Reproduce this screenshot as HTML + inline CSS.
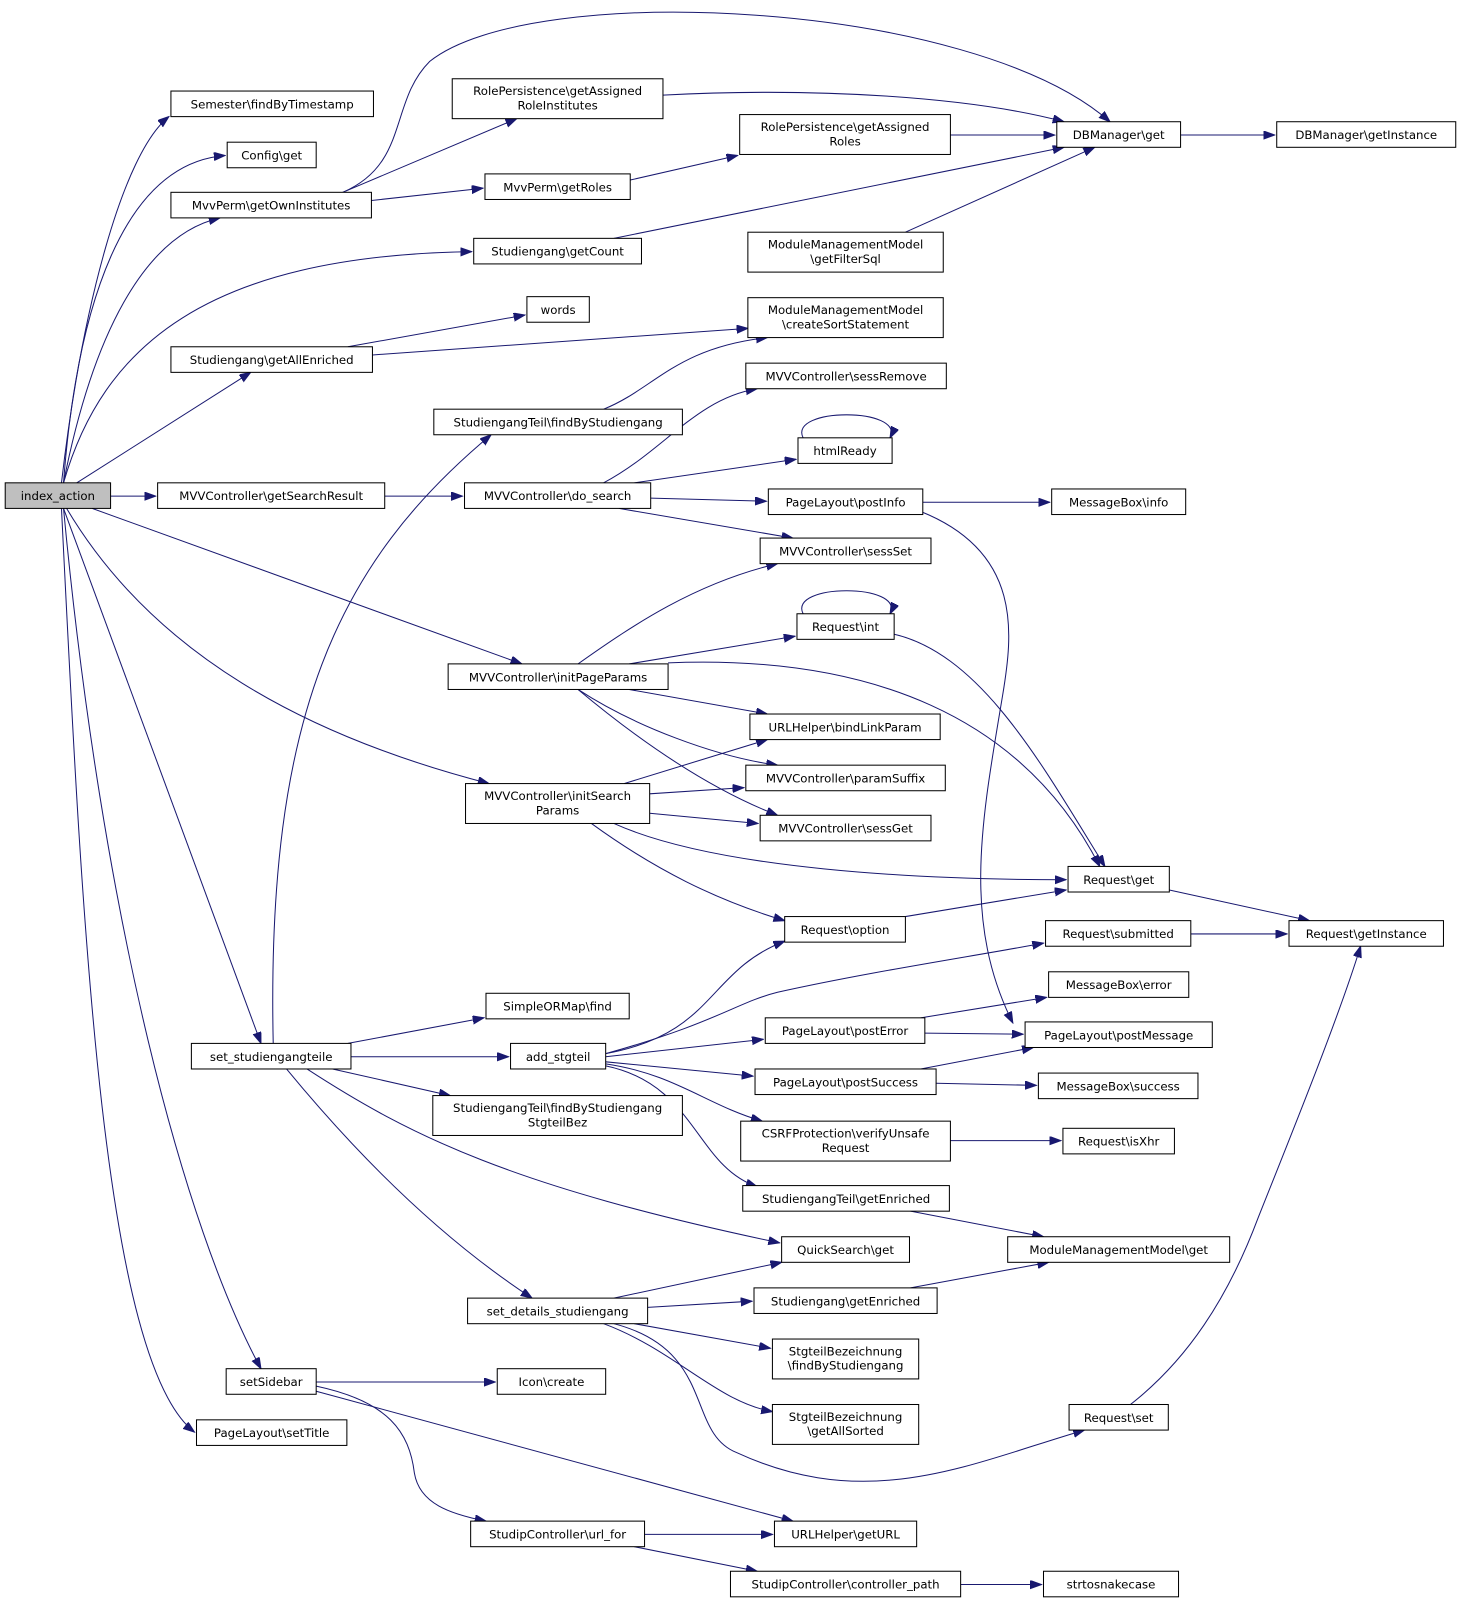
<!DOCTYPE html>
<html><head><meta charset="utf-8"><style>
html,body{margin:0;padding:0;background:#fff}
svg{display:block}
text{font-family:"DejaVu Sans","Liberation Sans",sans-serif;font-size:11.5px;fill:#000;text-anchor:middle}
rect{fill:#fff;stroke:#000;stroke-width:1}
path{fill:none;stroke:#191970;stroke-width:1;marker-end:url(#a)}
</style></head><body>
<svg width="1463" height="1605" viewBox="0 0 1430 1569" xmlns="http://www.w3.org/2000/svg">
<defs><marker id="a" markerUnits="userSpaceOnUse" markerWidth="12" markerHeight="10" refX="11" refY="4" orient="auto"><polygon points="0,0 11,4 0,8" fill="#191970" stroke="#191970"/></marker></defs>
<g>
<path d="M60,472 C80,300 120,150 165,114"/>
<path d="M62,472 C75,300 120,160 220,152"/>
<path d="M62,472 C90,330 140,230 215,213"/>
<path d="M62,472 C100,340 200,250 461,246"/>
<path d="M75,472 L245,364"/>
<path d="M108,485 L152,485"/>
<path d="M90,497 L510,649"/>
<path d="M65,497 C150,640 300,720 478,766"/>
<path d="M62,497 L255,1020"/>
<path d="M62,497 C100,900 180,1200 255,1338"/>
<path d="M60,497 C80,900 100,1330 190,1400"/>
<path d="M335,188 C400,160 380,100 420,60 C520,-20 950,0 1085,119"/>
<path d="M335,188 L505,116"/>
<path d="M363,196 L472,184"/>
<path d="M648,93 C800,85 950,95 1040,119"/>
<path d="M616,176 L721,152"/>
<path d="M929,132 L1031,132"/>
<path d="M600,233 L1040,144"/>
<path d="M885,227 L1070,144"/>
<path d="M1154,132 L1246,132"/>
<path d="M340,339 L513,308"/>
<path d="M364,347 L731,321"/>
<path d="M590,400 C640,380 660,340 750,330"/>
<path d="M376,485 L452,485"/>
<path d="M590,472 C650,440 680,390 740,380"/>
<path d="M620,472 L778,449"/>
<path d="M636,487 L749,490"/>
<path d="M605,497 L775,526"/>
<path d="M902,491 L1026,491"/>
<path d="M900,500 C1000,540 990,620 980,680 C960,800 940,900 990,1000"/>
<path d="M565,649 C620,610 680,570 760,551"/>
<path d="M615,649 L777,622"/>
<path d="M653,648 C850,640 1000,700 1075,847"/>
<path d="M615,674 L750,698"/>
<path d="M565,674 C620,710 700,740 760,748"/>
<path d="M565,674 C620,720 690,770 760,797"/>
<path d="M874,620 C960,640 1020,750 1080,847"/>
<path d="M610,766 L750,723"/>
<path d="M635,776 L727,770"/>
<path d="M635,795 L741,805"/>
<path d="M600,805 C700,850 900,860 1042,860"/>
<path d="M578,805 C640,850 700,880 767,900"/>
<path d="M885,896 L1042,870"/>
<path d="M1143,870 L1280,900"/>
<path d="M1164,913 L1258,913"/>
<path d="M267,1020 C260,700 330,550 480,425"/>
<path d="M340,1020 L473,995"/>
<path d="M343,1033 L497,1033"/>
<path d="M325,1045 L440,1071"/>
<path d="M300,1045 C400,1110 500,1160 762,1215"/>
<path d="M280,1045 C350,1130 430,1210 520,1269"/>
<path d="M592,1030 C700,1010 690,950 767,920"/>
<path d="M592,1030 C700,1000 720,980 760,970 C850,950 950,935 1020,922"/>
<path d="M592,1033 L746,1016"/>
<path d="M592,1038 L736,1052"/>
<path d="M592,1040 C660,1050 690,1080 745,1096"/>
<path d="M592,1042 C680,1060 680,1140 740,1160"/>
<path d="M900,995 L1023,975"/>
<path d="M904,1010 L1000,1011"/>
<path d="M900,1045 L1010,1024"/>
<path d="M915,1059 L1013,1061"/>
<path d="M929,1115 L1037,1115"/>
<path d="M890,1184 L1020,1209"/>
<path d="M890,1259 L1025,1234"/>
<path d="M600,1269 L764,1234"/>
<path d="M633,1278 L735,1272"/>
<path d="M620,1294 L753,1318"/>
<path d="M590,1294 C660,1320 700,1370 755,1380"/>
<path d="M600,1294 C700,1320 670,1400 720,1420 C850,1480 950,1430 1060,1398"/>
<path d="M1105,1373 C1160,1330 1200,1270 1230,1190 C1270,1090 1310,990 1330,925"/>
<path d="M309,1351 L484,1351"/>
<path d="M309,1360 L775,1487"/>
<path d="M309,1355 C380,1370 400,1400 405,1440 C410,1470 440,1480 475,1487"/>
<path d="M630,1500 L755,1500"/>
<path d="M620,1512 L740,1536"/>
<path d="M939,1549 L1018,1549"/>
<path d="M785,428 C770,398 885,398 870,428"/>
<path d="M785,600 C770,570 885,570 870,600"/>
</g>
<g>
<rect x="5" y="472" width="103" height="25" style="fill:#bfbfbf"/><text x="56.5" y="489">index_action</text>
<rect x="167" y="89" width="198" height="25"/><text x="266" y="106">Semester\findByTimestamp</text>
<rect x="222" y="139" width="87" height="25"/><text x="265.5" y="156">Config\get</text>
<rect x="167" y="188" width="196" height="25"/><text x="265" y="205">MvvPerm\getOwnInstitutes</text>
<rect x="167" y="339" width="197" height="25"/><text x="265.5" y="356">Studiengang\getAllEnriched</text>
<rect x="154" y="472" width="222" height="25"/><text x="265" y="489">MVVController\getSearchResult</text>
<rect x="187" y="1020" width="156" height="25"/><text x="265" y="1037">set_studiengangteile</text>
<rect x="221" y="1338" width="88" height="25"/><text x="265" y="1355">setSidebar</text>
<rect x="192" y="1388" width="147" height="25"/><text x="265.5" y="1405">PageLayout\setTitle</text>
<rect x="442" y="77" width="206" height="39"/><text x="545" y="93">RolePersistence\getAssigned</text><text x="545" y="107">RoleInstitutes</text>
<rect x="474" y="170" width="142" height="25"/><text x="545" y="187">MvvPerm\getRoles</text>
<rect x="463" y="233" width="164" height="25"/><text x="545" y="250">Studiengang\getCount</text>
<rect x="515" y="290" width="61" height="25"/><text x="545.5" y="307">words</text>
<rect x="424" y="400" width="243" height="25"/><text x="545.5" y="417">StudiengangTeil\findByStudiengang</text>
<rect x="454" y="472" width="182" height="25"/><text x="545" y="489">MVVController\do_search</text>
<rect x="438" y="649" width="215" height="25"/><text x="545.5" y="666">MVVController\initPageParams</text>
<rect x="455" y="766" width="180" height="39"/><text x="545" y="782">MVVController\initSearch</text><text x="545" y="796">Params</text>
<rect x="475" y="971" width="140" height="25"/><text x="545" y="988">SimpleORMap\find</text>
<rect x="499" y="1020" width="93" height="25"/><text x="545.5" y="1037">add_stgteil</text>
<rect x="423" y="1071" width="244" height="39"/><text x="545" y="1087">StudiengangTeil\findByStudiengang</text><text x="545" y="1101">StgteilBez</text>
<rect x="457" y="1269" width="176" height="25"/><text x="545" y="1286">set_details_studiengang</text>
<rect x="486" y="1338" width="106" height="25"/><text x="539" y="1355">Icon\create</text>
<rect x="460" y="1487" width="170" height="25"/><text x="545" y="1504">StudipController\url_for</text>
<rect x="723" y="112" width="206" height="39"/><text x="826" y="128">RolePersistence\getAssigned</text><text x="826" y="142">Roles</text>
<rect x="731" y="227" width="191" height="39"/><text x="826.5" y="243">ModuleManagementModel</text><text x="826.5" y="257">\getFilterSql</text>
<rect x="731" y="291" width="191" height="39"/><text x="826.5" y="307">ModuleManagementModel</text><text x="826.5" y="321">\createSortStatement</text>
<rect x="729" y="355" width="196" height="25"/><text x="827" y="372">MVVController\sessRemove</text>
<rect x="780" y="428" width="92" height="25"/><text x="826" y="445">htmlReady</text>
<rect x="751" y="478" width="151" height="25"/><text x="826.5" y="495">PageLayout\postInfo</text>
<rect x="743" y="526" width="167" height="25"/><text x="826.5" y="543">MVVController\sessSet</text>
<rect x="779" y="600" width="95" height="25"/><text x="826.5" y="617">Request\int</text>
<rect x="733" y="698" width="186" height="25"/><text x="826" y="715">URLHelper\bindLinkParam</text>
<rect x="729" y="748" width="195" height="25"/><text x="826.5" y="765">MVVController\paramSuffix</text>
<rect x="743" y="797" width="167" height="25"/><text x="826.5" y="814">MVVController\sessGet</text>
<rect x="767" y="896" width="118" height="25"/><text x="826" y="913">Request\option</text>
<rect x="748" y="995" width="156" height="25"/><text x="826" y="1012">PageLayout\postError</text>
<rect x="738" y="1045" width="177" height="25"/><text x="826.5" y="1062">PageLayout\postSuccess</text>
<rect x="724" y="1096" width="205" height="39"/><text x="826.5" y="1112">CSRFProtection\verifyUnsafe</text><text x="826.5" y="1126">Request</text>
<rect x="726" y="1159" width="202" height="25"/><text x="827" y="1176">StudiengangTeil\getEnriched</text>
<rect x="764" y="1209" width="125" height="25"/><text x="826.5" y="1226">QuickSearch\get</text>
<rect x="737" y="1259" width="179" height="25"/><text x="826.5" y="1276">Studiengang\getEnriched</text>
<rect x="755" y="1309" width="143" height="39"/><text x="826.5" y="1325">StgteilBezeichnung</text><text x="826.5" y="1339">\findByStudiengang</text>
<rect x="755" y="1373" width="143" height="39"/><text x="826.5" y="1389">StgteilBezeichnung</text><text x="826.5" y="1403">\getAllSorted</text>
<rect x="757" y="1487" width="139" height="25"/><text x="826.5" y="1504">URLHelper\getURL</text>
<rect x="714" y="1536" width="225" height="25"/><text x="826.5" y="1553">StudipController\controller_path</text>
<rect x="1033" y="119" width="121" height="25"/><text x="1093.5" y="136">DBManager\get</text>
<rect x="1028" y="478" width="131" height="25"/><text x="1093.5" y="495">MessageBox\info</text>
<rect x="1044" y="847" width="99" height="25"/><text x="1093.5" y="864">Request\get</text>
<rect x="1022" y="900" width="142" height="25"/><text x="1093" y="917">Request\submitted</text>
<rect x="1025" y="950" width="137" height="25"/><text x="1093.5" y="967">MessageBox\error</text>
<rect x="1002" y="999" width="183" height="25"/><text x="1093.5" y="1016">PageLayout\postMessage</text>
<rect x="1015" y="1049" width="156" height="25"/><text x="1093" y="1066">MessageBox\success</text>
<rect x="1039" y="1103" width="109" height="25"/><text x="1093.5" y="1120">Request\isXhr</text>
<rect x="985" y="1209" width="217" height="25"/><text x="1093.5" y="1226">ModuleManagementModel\get</text>
<rect x="1045" y="1373" width="97" height="25"/><text x="1093.5" y="1390">Request\set</text>
<rect x="1020" y="1536" width="132" height="25"/><text x="1086" y="1553">strtosnakecase</text>
<rect x="1248" y="119" width="175" height="25"/><text x="1335.5" y="136">DBManager\getInstance</text>
<rect x="1260" y="900" width="151" height="25"/><text x="1335.5" y="917">Request\getInstance</text>
</g>
</svg>
</body></html>
